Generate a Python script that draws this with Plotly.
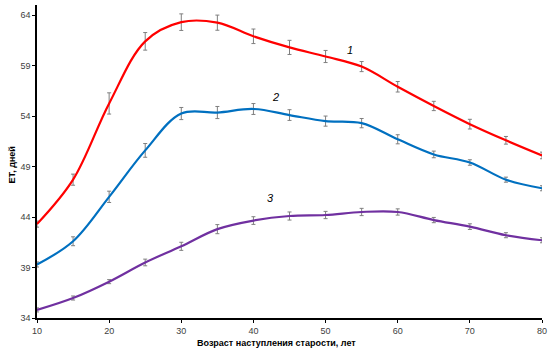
import plotly.graph_objects as go

ages = [10, 15, 20, 25, 30, 35, 40, 45, 50, 55, 60, 65, 70, 75, 80]

et_1 = [43.3, 47.7, 55.25, 61.4, 63.3, 63.25, 61.9, 60.8, 59.9, 58.9, 56.9, 55.0, 53.2, 51.6, 50.1]
err_1 = [0.3, 0.55, 1.05, 0.87, 0.82, 0.75, 0.72, 0.7, 0.6, 0.5, 0.52, 0.46, 0.48, 0.38, 0.33]

et_2 = [39.3, 41.6, 46.0, 50.6, 54.25, 54.35, 54.7, 54.1, 53.5, 53.3, 51.7, 50.2, 49.4, 47.7, 46.85]
err_2 = [0.25, 0.44, 0.56, 0.68, 0.6, 0.6, 0.54, 0.53, 0.5, 0.46, 0.45, 0.33, 0.27, 0.25, 0.25]

et_3 = [34.8, 35.98, 37.6, 39.5, 41.1, 42.8, 43.65, 44.1, 44.2, 44.5, 44.5, 43.7, 43.05, 42.2, 41.7]
err_3 = [0.2, 0.2, 0.2, 0.33, 0.4, 0.45, 0.38, 0.4, 0.36, 0.36, 0.31, 0.26, 0.28, 0.25, 0.25]

series_labels = ["1", "2", "3"]
label_x = [53.4, 43.0, 42.3]
label_y = [60.5, 55.9, 45.9]

y_ticks = [34, 39, 44, 49, 54, 59, 64]
x_ticks = [10, 20, 30, 40, 50, 60, 70, 80]

colors = ["#FF0000", "#0070C0", "#7030A0"]

fig = go.Figure()
for vals, errs, col in zip([et_1, et_2, et_3], [err_1, err_2, err_3], colors):
    fig.add_trace(go.Scatter(
        x=ages, y=vals, mode="lines",
        line=dict(color=col, width=2.2, shape="spline", smoothing=1.0),
        error_y=dict(type="data", array=errs, visible=True,
                     color="#7f7f7f", thickness=1, width=2),
        showlegend=False,
    ))

for t, lx, ly in zip(series_labels, label_x, label_y):
    fig.add_annotation(x=lx, y=ly, text=f"<i>{t}</i>", showarrow=False,
                       font=dict(family="Liberation Sans", size=11, color="#000000"))

fig.add_annotation(xref="paper", yref="paper", x=0.474, y=-0.08,
                   text="<b>Возраст наступления старости, лет</b>",
                   showarrow=False, xanchor="center", yanchor="middle",
                   font=dict(family="Liberation Sans", size=9, color="#000000"))
fig.add_annotation(xref="paper", yref="paper", x=-0.05, y=0.49,
                   text="<b>ЕТ, дней</b>", textangle=-90,
                   showarrow=False, xanchor="center", yanchor="middle",
                   font=dict(family="Liberation Sans", size=9, color="#000000"))

fig.update_layout(
    width=550, height=355,
    margin=dict(l=37, r=8, t=5, b=37, autoexpand=False),
    paper_bgcolor="white", plot_bgcolor="white",
    font=dict(family="Liberation Sans", size=9, color="#404040"),
    xaxis=dict(range=[10, 80], tickvals=x_ticks, showgrid=False, zeroline=False,
               showline=True, linecolor="#000000", linewidth=1.6,
               ticks="outside", ticklen=3, tickcolor="#000000",
               automargin=False, ticklabeloverflow="allow",
               tickfont=dict(size=9, color="#404040")),
    yaxis=dict(range=[34, 65], tickvals=y_ticks, showgrid=False, zeroline=False,
               showline=True, linecolor="#000000", linewidth=1.6,
               ticks="outside", ticklen=3, tickcolor="#000000",
               automargin=False, ticklabeloverflow="allow",
               tickfont=dict(size=9, color="#404040")),
)

fig.write_html("out.html", config={"displayModeBar": False},
               post_script="document.body.style.margin='0px';")
